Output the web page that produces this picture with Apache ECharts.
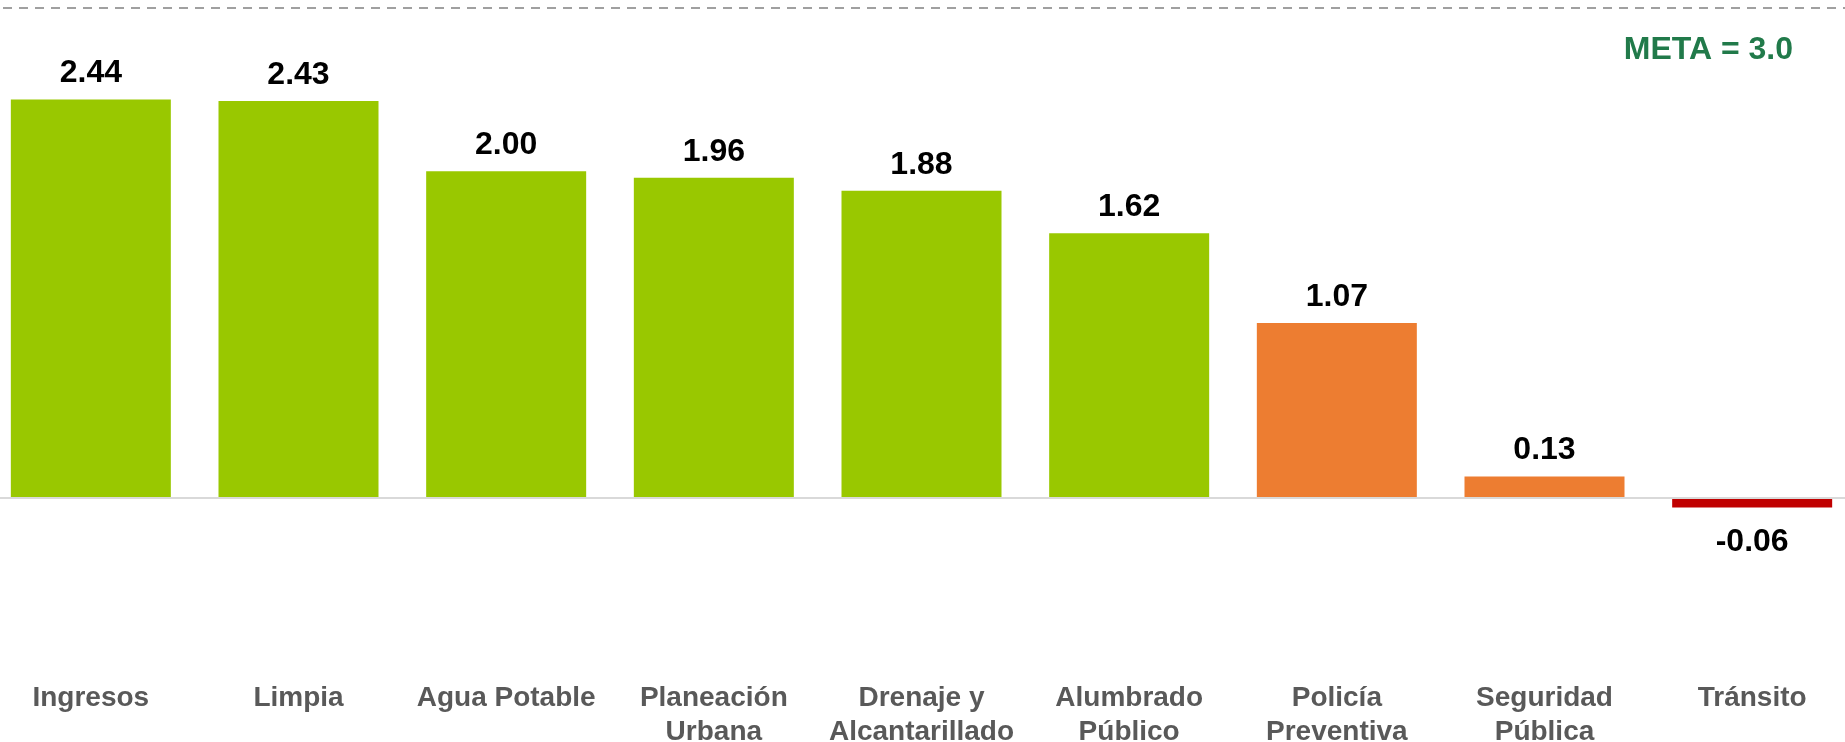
<!DOCTYPE html>
<html>
<head>
<meta charset="utf-8">
<script src="https://cdn.jsdelivr.net/npm/echarts@6/dist/echarts.min.js"></script>
<style>
html,body{margin:0;padding:0;background:#fff;overflow:hidden;}
#wrap{position:relative;width:1845px;height:742px;overflow:hidden;}
#chart{position:absolute;left:-13px;top:0;width:1869px;height:742px;}
</style>
</head>
<body>
<div id="wrap"><div id="chart"></div></div>
<script>
const categories = ['Ingresos', 'Limpia', 'Agua Potable', 'Planeación\nUrbana', 'Drenaje y\nAlcantarillado', 'Alumbrado\nPúblico', 'Policía\nPreventiva', 'Seguridad\nPública', 'Tránsito'];
const values = [2.44, 2.43, 2.00, 1.96, 1.88, 1.62, 1.07, 0.13, -0.06];
const barColors = ['#99C800', '#99C800', '#99C800', '#99C800', '#99C800', '#99C800', '#ED7D31', '#ED7D31', '#C00000'];
const metaValue = 3.0;
const metaLabel = 'META = 3.0';
const yMin = -1;
const yMax = 3;

const chart = echarts.init(document.getElementById('chart'), null, {renderer: 'canvas'});

const seriesData = values.map((v, i) => ({
  value: v,
  itemStyle: {color: barColors[i]},
  label: {position: v < 0 ? 'bottom' : 'top', distance: v < 0 ? 19 : 10}
}));

chart.setOption({
  animation: false,
  backgroundColor: '#ffffff',
  grid: {left: 0, right: 0, top: 8, bottom: 81, containLabel: false, outerBoundsMode: 'none'},
  xAxis: {
    type: 'category',
    data: categories,
    axisLine: {show: false, onZero: false},
    axisTick: {show: false},
    splitLine: {show: false},
    axisLabel: {
      interval: 0,
      margin: 20,
      color: '#595959',
      fontFamily: 'Liberation Sans, Arial, sans-serif',
      fontWeight: 'bold',
      fontSize: 28,
      lineHeight: 34,
      align: 'center'
    }
  },
  yAxis: {
    type: 'value',
    min: yMin,
    max: yMax,
    show: false,
    splitLine: {show: false}
  },
  graphic: [{
    type: 'text',
    right: 63,
    top: 34,
    style: {
      text: metaLabel,
      fill: '#217A4A',
      font: 'bold 32px "Liberation Sans", Arial, sans-serif'
    }
  }],
  series: [{
    type: 'bar',
    data: seriesData,
    barWidth: 160,
    label: {
      show: true,
      color: '#000000',
      fontFamily: 'Liberation Sans, Arial, sans-serif',
      fontWeight: 'bold',
      fontSize: 32,
      formatter: p => p.value.toFixed(2)
    },
    markLine: {
      silent: true,
      symbol: 'none',
      label: {show: false},
      data: [
        {yAxis: 0, lineStyle: {color: '#D9D9D9', width: 2, type: 'solid'}},
        {yAxis: metaValue, lineStyle: {color: '#A0A0A0', width: 2, type: [9, 7]}}
      ]
    }
  }]
});
</script>
</body>
</html>
